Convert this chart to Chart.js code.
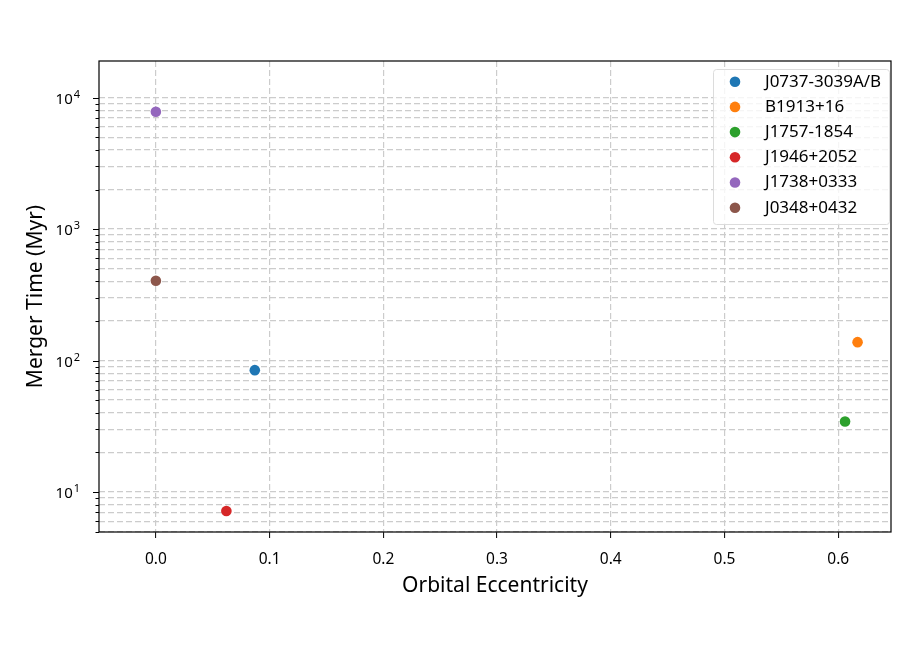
<!DOCTYPE html>
<html>
<head>
<meta charset="utf-8">
<script src="https://cdn.jsdelivr.net/npm/chart.js@4"></script>
<style>
  html, body { margin: 0; padding: 0; background: #fff; }
  #wrap { width: 915px; height: 647px; }
</style>
</head>
<body>
<div id="wrap"><canvas id="chart" width="915" height="647"></canvas></div>
<script>
const pulsars = ['J0737-3039A/B', 'B1913+16', 'J1757-1854', 'J1946+2052', 'J1738+0333', 'J0348+0432'];
const eccentricity = [0.087, 0.617, 0.606, 0.062, 0.0, 0.0];
const mergerTime = [84.5, 138, 34.4, 7.17, 7820, 405];
const colors = ['#1f77b4', '#ff7f0e', '#2ca02c', '#d62728', '#9467bd', '#8c564b'];
const xTicks = [0.0, 0.1, 0.2, 0.3, 0.4, 0.5, 0.6];
const decades = [1, 10, 100, 1000, 10000];

const FONT = "'Noto Sans', 'DejaVu Sans', sans-serif";
const gridColor = '#cccccc';
const Y_MIN = 4.96, Y_MAX = 19000;

// all 1..9 x 10^n ticks inside the range
const yTickValues = [];
decades.forEach(d => {
    for (let m = 1; m <= 9; m++) {
        const v = m * d;
        if (v >= Y_MIN && v <= Y_MAX) yTickValues.push(v);
    }
});

const datasets = pulsars.map((name, i) => ({
    label: name,
    data: [{ x: eccentricity[i], y: mergerTime[i] }],
    backgroundColor: colors[i],
    borderColor: colors[i],
    pointRadius: 5.3,
    pointHoverRadius: 5.3,
    borderWidth: 0
}));

// frame, y tick marks + labels, legend box
const decor = {
    id: 'decor',
    afterDraw(chart) {
        const ctx = chart.ctx;
        const a = chart.chartArea;
        const ys = chart.scales.y;
        ctx.save();
        ctx.strokeStyle = '#000';
        ctx.fillStyle = '#000';
        ctx.lineWidth = 1;
        ys.ticks.forEach(t => {
            const py = Math.round(ys.getPixelForValue(t.value)) + 0.5;
            const major = decades.includes(t.value);
            ctx.beginPath();
            ctx.moveTo(a.left - (major ? 6 : 3.5), py);
            ctx.lineTo(a.left, py);
            ctx.stroke();
            if (major) {
                const e = String(Math.round(Math.log10(t.value)));
                ctx.font = '11px ' + FONT;
                ctx.textAlign = 'right';
                ctx.textBaseline = 'alphabetic';
                const ew = ctx.measureText(e).width;
                ctx.fillText(e, 80, py - 0.5);
                ctx.font = '15px ' + FONT;
                ctx.fillText('10', 79 - ew, py + 5.5);
            }
        });
        // frame
        ctx.lineWidth = 1.2;
        ctx.strokeRect(a.left, a.top, a.right - a.left, a.bottom - a.top);

        // legend
        const lx = 713, ly = 69, lw = 176, lh = 155;
        ctx.fillStyle = 'rgba(255,255,255,0.8)';
        ctx.strokeStyle = '#dcdcdc';
        ctx.lineWidth = 1;
        ctx.beginPath();
        ctx.roundRect(lx + 0.5, ly + 0.5, lw, lh, 3);
        ctx.fill();
        ctx.stroke();
        ctx.font = '17px ' + FONT;
        ctx.textBaseline = 'middle';
        ctx.textAlign = 'left';
        chart.data.datasets.forEach((ds, i) => {
            const cy = 81.7 + i * 25.2;
            ctx.fillStyle = ds.backgroundColor;
            ctx.beginPath();
            ctx.arc(735, cy, 5.3, 0, Math.PI * 2);
            ctx.fill();
            ctx.fillStyle = '#000';
            ctx.fillText(ds.label, 765, cy);
        });
        ctx.restore();
    }
};

new Chart(document.getElementById('chart'), {
    type: 'scatter',
    data: { datasets },
    options: {
        responsive: false,
        animation: false,
        layout: { padding: { top: 61, right: 24, left: 0, bottom: 0 } },
        plugins: {
            legend: { display: false },
            tooltip: { enabled: false }
        },
        scales: {
            x: {
                type: 'linear',
                min: -0.05,
                max: 0.6464,
                afterBuildTicks: s => { s.ticks = xTicks.map(v => ({ value: v })); },
                afterFit: s => { s.height = 115; },
                border: { display: false, dash: [6, 3] },
                grid: {
                    color: gridColor,
                    lineWidth: 1.2,
                    tickColor: '#000',
                    tickBorderDash: [],
                    tickLength: 6,
                    tickWidth: 1,
                    drawTicks: true
                },
                ticks: {
                    padding: 12,
                    color: '#000',
                    font: { family: FONT, size: 15.5 },
                    callback: v => v.toFixed(1),
                    maxRotation: 0
                },
                title: {
                    display: true,
                    text: 'Orbital Eccentricity',
                    color: '#000',
                    font: { family: FONT, size: 21 },
                    padding: { top: 0, bottom: 48 }
                }
            },
            y: {
                type: 'logarithmic',
                min: Y_MIN,
                max: Y_MAX,
                afterBuildTicks: s => { s.ticks = yTickValues.map(v => ({ value: v })); },
                afterFit: s => { s.width = 99; },
                border: { display: false, dash: [6, 3] },
                grid: {
                    color: gridColor,
                    lineWidth: 1.2,
                    drawTicks: false
                },
                ticks: {
                    display: false,
                    autoSkip: false
                },
                title: {
                    display: true,
                    text: 'Merger Time (Myr)',
                    color: '#000',
                    font: { family: FONT, size: 21 },
                    padding: { top: 23, bottom: 0 }
                }
            }
        }
    },
    plugins: [decor]
});
</script>
</body>
</html>
